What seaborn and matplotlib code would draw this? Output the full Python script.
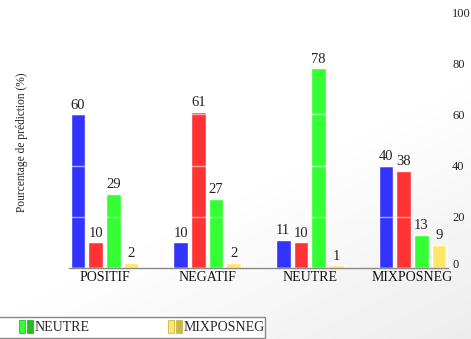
import numpy as np
import pandas as pd
import matplotlib
matplotlib.use("Agg")
import matplotlib.pyplot as plt
from matplotlib.patches import Rectangle
from matplotlib.legend_handler import HandlerTuple
import seaborn as sns

# Categories on the x axis and predicted-class series
categories = ["POSITIF", "NEGATIF", "NEUTRE", "MIXPOSNEG"]
series_names = ["POSITIF", "NEGATIF", "NEUTRE", "MIXPOSNEG"]
pred_positif = [60, 10, 11, 40]
pred_negatif = [10, 61, 10, 38]
pred_neutre = [29, 27, 78, 13]
pred_mixposneg = [2, 2, 1, 9]
y_ticks = [0, 20, 40, 60, 80, 100]

colors = ["#3333ff", "#ff3333", "#33ff33", "#ffe666"]
dark = ["#2222cc", "#cc2222", "#22bb22", "#ccb84a"]

values = [pred_positif, pred_negatif, pred_neutre, pred_mixposneg]
df = pd.DataFrame({
    "categorie": [c for s in values for c in categories],
    "serie": [n for n, s in zip(series_names, values) for _ in s],
    "valeur": [v for s in values for v in s],
})

sns.set_theme(style="white")
plt.rcParams["font.family"] = ["Liberation Serif", "DejaVu Serif"]

fig = plt.figure(figsize=(4.71, 3.39), dpi=100)

# faint grey shading towards the lower right
bg = fig.add_axes([0, 0, 1, 1], zorder=-10)
yy, xx = np.mgrid[0:1:200j, 0:1:280j]   # yy = 0 at the top
t = np.clip((0.55 * xx + 0.8 * yy) - 0.75, 0, None) / 0.6
shade = 1 - 0.07 * t
bg.imshow(np.dstack([shade] * 3), aspect="auto", extent=[0, 1, 0, 1], vmin=0, vmax=1)
bg.axis("off")

ax = fig.add_axes([0.1465, 0.2094, 0.8045, 0.7552])
ax.patch.set_alpha(0)

group_w = 0.69
sns.barplot(data=df, x="categorie", y="valeur", hue="serie",
            order=categories, hue_order=series_names, palette=colors,
            width=group_w, gap=0.17, saturation=1, ax=ax, legend=False)

for cont in ax.containers:
    ax.bar_label(cont, fmt="%d", padding=2, fontsize=10.5, color="#222222")

ax.set_xlim(-group_w / 2, len(categories) - 1 + group_w / 2)
ax.set_ylim(0, 100)
ax.set_yticks(y_ticks)
ax.yaxis.tick_right()
ax.yaxis.set_label_position("left")
ax.tick_params(axis="y", length=0, pad=3, labelsize=9, colors="#222222")
ax.tick_params(axis="x", length=0, pad=2, labelsize=10, colors="#111111")
ax.set_xlabel("")
ax.set_ylabel("Pourcentage de prédiction (%)", fontsize=8.3, color="#222222")
ax.yaxis.set_label_coords(-0.108, 0.49)
# the zero label sits on the baseline
ax.get_yticklabels()[0].set_verticalalignment("baseline")

# light grid drawn over the bars
ax.set_axisbelow(False)
ax.yaxis.grid(True, color="white", alpha=0.55, linewidth=1)
for s in ["top", "left", "right"]:
    ax.spines[s].set_visible(False)
ax.spines["bottom"].set_color("#888888")
ax.spines["bottom"].set_linewidth(1)

# legend frame along the bottom edge
W, H = 471, 339
fig.patches.append(Rectangle((-2 / W, 1.5 / H), 267 / W, (339 - 317 - 1.5) / H,
                             transform=fig.transFigure, facecolor="white",
                             edgecolor="#888888", linewidth=1, zorder=5))

handles = []
for i in (2, 3):
    handles.append((Rectangle((0, 0), 1, 1, facecolor=colors[i], edgecolor=dark[i], linewidth=0.6),
                    Rectangle((0, 0), 1, 1, facecolor=dark[i], edgecolor=dark[i], linewidth=0.6)))
leg = fig.legend(handles, ["NEUTRE", "MIXPOSNEG"], ncol=2,
                 handler_map={tuple: HandlerTuple(ndivide=None, pad=0.15)},
                 loc="center left", bbox_to_anchor=(19 / W, 1 - 327 / H),
                 bbox_transform=fig.transFigure, borderaxespad=0, borderpad=0,
                 frameon=False, fontsize=10,
                 handlelength=1.0, handleheight=1.15, handletextpad=0.15,
                 columnspacing=5.6)
leg.set_zorder(6)

fig.savefig("out.png", dpi=100)
